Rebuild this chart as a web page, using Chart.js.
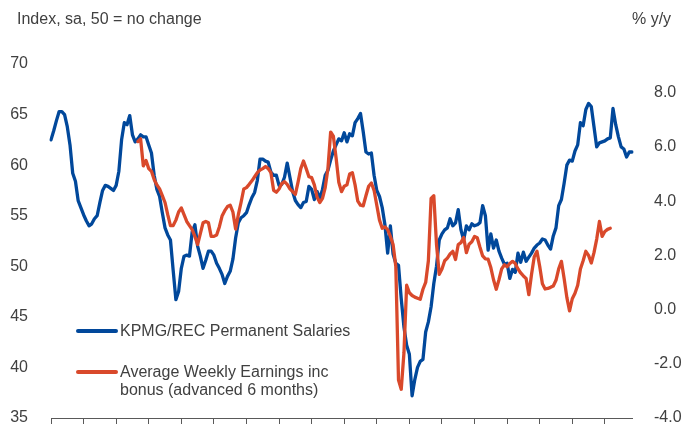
<!DOCTYPE html>
<html>
<head>
<meta charset="utf-8">
<title>KPMG/REC permanent salaries and average weekly earnings</title>
<script src="https://cdn.jsdelivr.net/npm/chart.js@4.4.0/dist/chart.umd.min.js"></script>
<style>
    body { margin: 0; background: #ffffff; }
    #wrap { width: 689px; height: 426px; }
</style>
</head>
<body>
<div id="wrap"><canvas id="salaryChart" width="689" height="426"></canvas></div>
<script>
// monthly data, first point Oct 1997
var startYear = 1997, startMonth = 9;
var monthNames = ['Jan','Feb','Mar','Apr','May','Jun','Jul','Aug','Sep','Oct','Nov','Dec'];

// KPMG/REC permanent salaries index (left axis)
var salaryIndex = [
    62.5, 63.4, 64.4, 65.3, 65.3, 65.0, 63.8, 62.0, 59.2, 58.4, 56.5, 55.8,
    55.1, 54.5, 54.0, 54.2, 54.7, 55.0, 56.3, 57.5, 58.0, 57.9, 57.7, 57.5,
    58.0, 59.4, 62.5, 64.2, 64.0, 64.9, 63.0, 62.3, 62.6, 63.0, 62.8, 62.8,
    62.0, 61.2, 59.0, 57.6, 56.9, 55.3, 53.8, 53.1, 52.6, 49.6, 46.7, 47.5,
    49.8, 51.0, 51.1, 51.0, 53.4, 54.1, 52.0, 51.0, 49.8, 50.6, 51.5, 51.5,
    51.1, 50.3, 49.8, 49.2, 48.3, 49.0, 49.5, 50.7, 52.8, 54.3, 54.8, 55.0,
    55.3, 56.1, 56.8, 57.3, 58.5, 60.6, 60.6, 60.4, 60.3, 59.3, 59.0, 59.0,
    58.0, 58.1, 58.8, 60.2, 58.8, 57.4, 56.5, 56.1, 55.8, 56.3, 56.4, 57.9,
    57.6, 56.6, 57.4, 56.7, 57.6, 59.0, 59.5, 60.5, 61.4, 62.0, 62.6, 62.4,
    63.2, 62.3, 63.1, 62.9, 64.2, 64.6, 65.1, 63.3, 61.3, 61.1, 61.2, 59.0,
    57.5, 56.9, 55.8, 54.1, 51.3, 54.0, 51.2, 50.3, 50.1, 46.8, 44.0, 42.2,
    41.3, 37.2, 38.8, 40.0, 40.6, 40.8, 43.5, 44.5, 46.0, 48.3, 50.0, 52.6,
    53.2, 53.6, 53.8, 54.7, 54.0, 54.3, 55.6, 53.6, 52.6, 54.0, 53.6, 54.2,
    54.0, 54.1, 54.3, 56.0, 55.0, 51.6, 53.2, 51.8, 52.6, 51.5, 50.8, 50.2,
    50.3, 48.8, 49.7, 49.4, 51.3, 50.4, 51.4, 50.5, 50.9, 51.3, 51.8, 52.1,
    52.3, 52.7, 52.6, 52.1, 51.7, 53.0, 53.8, 56.0, 56.6, 58.2, 60.0, 60.5,
    60.4, 61.4, 62.0, 64.2, 63.9, 65.5, 66.1, 65.8, 63.8, 61.8, 62.2, 62.3,
    62.4, 62.6, 62.7, 65.6, 64.0, 62.8, 61.8, 61.6, 60.8, 61.3, 61.3
];

// AWE inc bonus, % y/y, advanced 6 months (right axis), starts at month 32
var aweOffset = 32;
var aweGrowth = [
    6.2, 6.3, 5.3, 5.5, 5.2, 5.1, 4.8, 4.6, 4.45, 4.2, 3.95, 3.5,
    3.1, 3.1, 3.3, 3.6, 3.75, 3.5, 3.25, 3.1, 2.95, 2.7, 2.4, 2.8,
    3.2, 3.25, 3.2, 2.7, 2.7, 2.75, 3.05, 3.45, 3.65, 3.8, 3.85, 3.6,
    2.97, 3.5, 3.95, 4.45, 4.5, 4.62, 4.75, 4.9, 5.05, 5.15, 5.2, 5.28,
    5.2, 5.05, 4.4, 4.33, 4.45, 4.65, 4.72, 4.62, 4.45, 4.35, 4.25, 4.7,
    5.2, 5.48, 5.2, 4.9, 4.87, 4.6, 4.15, 3.95, 4.1, 4.5, 5.2, 6.55,
    6.4, 5.6, 4.7, 4.35, 4.55, 4.6, 5.0, 5.05, 4.6, 4.0, 3.85, 3.83,
    4.2, 4.55, 4.67, 4.4, 3.85, 3.3, 3.0, 3.05, 2.95, 2.7, 2.4, 1.6,
    -2.6, -2.94, -1.6, 0.9, 0.62, 0.52, 0.46, 0.42, 0.38, 0.75, 1.0, 1.8,
    4.1, 4.2, 2.4, 1.3, 1.5, 1.8, 1.9, 2.05, 2.15, 1.85, 2.4, 2.47,
    2.66, 2.1, 2.41, 2.5, 2.7, 2.65, 2.3, 1.98, 1.87, 1.86, 1.55, 1.1,
    0.75, 1.1, 1.5, 1.65, 1.58, 1.7, 1.78, 1.7, 1.5, 1.35, 1.24, 1.15,
    0.55, 1.3, 1.95, 2.15, 1.6, 0.95, 0.76, 0.78, 0.82, 0.87, 1.08, 1.5,
    1.78, 1.15, 0.45, -0.05, 0.4, 0.6, 0.9, 1.5, 1.8, 2.15, 2.0, 1.72,
    2.1, 2.6, 3.25, 2.7, 2.88, 2.96, 3.0
];

var seriesNames = ['KPMG/REC Permanent Salaries', 'Average Weekly Earnings inc bonus (advanced 6 months)'];
var legendLines = [['KPMG/REC Permanent Salaries'], ['Average Weekly Earnings inc', 'bonus (advanced 6 months)']];

var blue = '#01489b';
var red = '#d9492b';
var textColour = '#404040';
var axisColour = '#595959';

var monthLabels = [];
for (var i = 0; i < salaryIndex.length; i++) {
    var m = startMonth + i;
    monthLabels.push(monthNames[m % 12] + '-' + (startYear + Math.floor(m / 12)));
}

var aweData = [];
for (var i = 0; i < monthLabels.length; i++) {
    var k = i - aweOffset;
    aweData.push(k >= 0 && k < aweGrowth.length ? aweGrowth[k] : null);
}

// axis titles and the key sit inside/above the plot, drawn by hand
var overlayText = {
    id: 'overlayText',
    afterDraw: function(chart) {
        var ctx = chart.ctx;
        ctx.save();
        ctx.font = '16px "Liberation Sans", Arial, sans-serif';
        ctx.fillStyle = textColour;
        ctx.textAlign = 'left';
        ctx.textBaseline = 'alphabetic';
        ctx.fillText('Index, sa, 50 = no change', 17, 24);
        ctx.fillText('% y/y', 632, 24);

        drawKey(ctx, blue, 331, legendLines[0], 336);
        drawKey(ctx, red, 372, legendLines[1], 377);
        ctx.restore();
    }
};

function drawKey(ctx, colour, lineY, lines, baseY) {
    ctx.strokeStyle = colour;
    ctx.lineWidth = 4;
    ctx.lineCap = 'round';
    ctx.beginPath();
    ctx.moveTo(78, lineY);
    ctx.lineTo(116, lineY);
    ctx.stroke();
    for (var j = 0; j < lines.length; j++) {
        ctx.fillText(lines[j], 120, baseY + j * 18);
    }
}

Chart.defaults.font.family = '"Liberation Sans", Arial, sans-serif';
Chart.defaults.font.size = 16;
Chart.defaults.color = textColour;

var ctx = document.getElementById('salaryChart').getContext('2d');
var salaryChart = new Chart(ctx, {
    type: 'line',
    data: {
        labels: monthLabels,
        datasets: [
            {
                label: seriesNames[0],
                data: salaryIndex,
                borderColor: blue,
                borderWidth: 3.3,
                borderJoinStyle: 'round',
                borderCapStyle: 'round',
                pointRadius: 0,
                tension: 0,
                yAxisID: 'yLeft',
                order: 2
            },
            {
                label: seriesNames[1],
                data: aweData,
                borderColor: red,
                borderWidth: 3.3,
                borderJoinStyle: 'round',
                borderCapStyle: 'round',
                pointRadius: 0,
                tension: 0,
                spanGaps: false,
                yAxisID: 'yRight',
                order: 1
            }
        ]
    },
    options: {
        responsive: false,
        animation: false,
        devicePixelRatio: 1,
        layout: { padding: { top: 64, left: 0, right: 0, bottom: 0 } },
        plugins: {
            legend: { display: false },
            tooltip: { enabled: false },
            title: { display: false }
        },
        scales: {
            x: {
                type: 'category',
                offset: false,
                ticks: { display: false, autoSkip: false },
                grid: {
                    display: true,
                    drawOnChartArea: false,
                    drawTicks: true,
                    tickLength: 6,
                    color: axisColour
                },
                border: { display: true, color: axisColour, width: 1 },
                afterBuildTicks: function(scale) {
                    // one tick mark a year
                    scale.ticks = scale.ticks.filter(function(t) { return t.value % 12 === 0; });
                },
                afterFit: function(scale) { scale.height = 8; }
            },
            yLeft: {
                position: 'left',
                min: 35,
                max: 70,
                ticks: {
                    stepSize: 5,
                    padding: 15,
                    callback: function(v) { return String(v); }
                },
                grid: { display: false },
                border: { display: false },
                afterFit: function(scale) {
                    scale.width = 51;
                    scale.paddingTop = 0;
                    scale.paddingBottom = 0;
                }
            },
            yRight: {
                position: 'right',
                min: -4,
                max: 9.06,
                ticks: {
                    stepSize: 2,
                    includeBounds: false,
                    padding: 14,
                    callback: function(v) { return v.toFixed(1); }
                },
                grid: { display: false },
                border: { display: false },
                afterFit: function(scale) {
                    scale.width = 57;
                    scale.paddingTop = 0;
                    scale.paddingBottom = 0;
                }
            }
        }
    },
    plugins: [overlayText]
});
</script>
</body>
</html>
